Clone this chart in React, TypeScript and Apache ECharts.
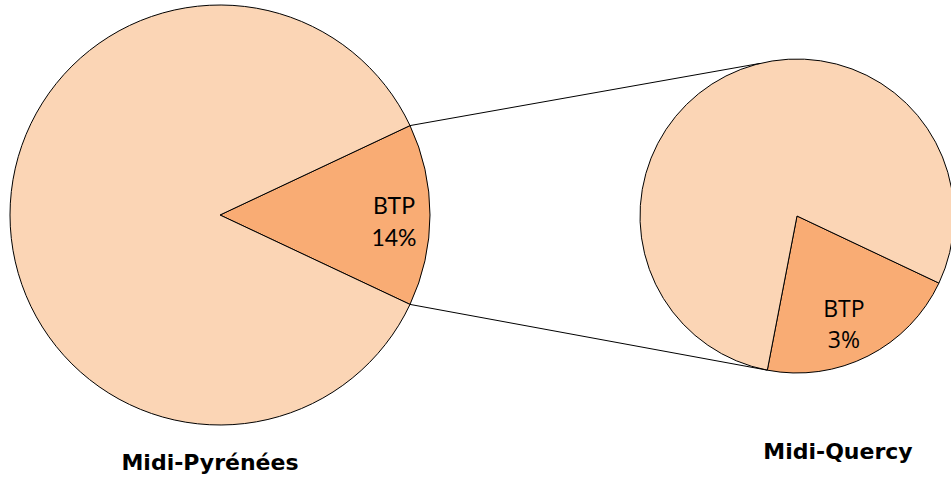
import React, { useEffect, useRef } from "react";
import * as echarts from "echarts";

// ---- data ----
const regions = ["Midi-Pyrénées", "Midi-Quercy"];
const sliceNames = ["BTP", "Autres"];
const leftValues = [14, 86];
const rightValues = [21, 79];
const labelPercents = ["14%", "3%"];

// ---- layout / style ----
const W = 951;
const H = 483;
const leftCenter = [220, 215];
const leftR = 210;
const rightCenter = [797, 216];
const rightR = 157;
const rightStart = -25.3;
const rightUpperConnectorAngle = 103.6;
const lightColor = "#FBD5B5";
const darkColor = "#F9AC74";

const rad = (d: number) => (d * Math.PI) / 180;
const pt = (c: number[], r: number, deg: number) => [
  c[0] + r * Math.cos(rad(deg)),
  c[1] - r * Math.sin(rad(deg)),
];

export default function App() {
  const ref = useRef<HTMLDivElement>(null);
  useEffect(() => {
    if (!ref.current) return;
    const chart = echarts.init(ref.current, null, { renderer: "svg" });

    const leftTotal = leftValues.reduce((a, b) => a + b, 0);
    const rightTotal = rightValues.reduce((a, b) => a + b, 0);
    const leftSpan = (leftValues[0] / leftTotal) * 360;
    const leftStart = leftSpan / 2;
    const rightSpan = (rightValues[0] / rightTotal) * 360;

    const lUp = pt(leftCenter, leftR, leftStart);
    const lDown = pt(leftCenter, leftR, leftStart - leftSpan);
    const rUp = pt(rightCenter, rightR, rightUpperConnectorAngle);
    const rDown = pt(rightCenter, rightR, rightStart - rightSpan);

    const mkData = (vals: number[], idx: number) =>
      vals.map((v, i) => ({
        name: sliceNames[i],
        value: v,
        itemStyle: { color: i === 0 ? darkColor : lightColor },
        label:
          i === 0
            ? { show: true, formatter: `${sliceNames[0]}\n${labelPercents[idx]}` }
            : { show: false },
      }));

    chart.setOption({
      animation: false,
      series: [
        {
          type: "pie",
          center: leftCenter,
          radius: leftR,
          startAngle: leftStart,
          clockwise: true,
          silent: true,
          avoidLabelOverlap: false,
          itemStyle: { borderColor: "#000", borderWidth: 1 },
          label: {
            position: "inside",
            offset: [66, 6],
            color: "#000",
            fontFamily: "Lato",
            fontSize: 23,
            lineHeight: 32,
            align: "center",
          },
          labelLine: { show: false },
          emphasis: { disabled: true },
          data: mkData(leftValues, 0),
        },
        {
          type: "pie",
          center: rightCenter,
          radius: rightR,
          startAngle: rightStart,
          clockwise: true,
          silent: true,
          avoidLabelOverlap: false,
          itemStyle: { borderColor: "#000", borderWidth: 1 },
          label: {
            position: "inside",
            offset: [10, 35],
            color: "#000",
            fontFamily: "Open Sans",
            fontSize: 23,
            lineHeight: 31,
            align: "center",
          },
          labelLine: { show: false },
          emphasis: { disabled: true },
          data: mkData(rightValues, 1),
        },
      ],
      graphic: [
        {
          type: "line",
          shape: { x1: lUp[0], y1: lUp[1], x2: rUp[0], y2: rUp[1] },
          style: { stroke: "#000", lineWidth: 1 },
          z: 10,
        },
        {
          type: "line",
          shape: { x1: lDown[0], y1: lDown[1], x2: rDown[0], y2: rDown[1] },
          style: { stroke: "#000", lineWidth: 1 },
          z: 10,
        },
        {
          type: "text",
          x: 210,
          y: 462,
          style: {
            text: regions[0],
            fill: "#000",
            font: "bold 22px 'DejaVu Sans'",
            textAlign: "center",
            textVerticalAlign: "middle",
          },
        },
        {
          type: "text",
          x: 838,
          y: 451,
          style: {
            text: regions[1],
            fill: "#000",
            font: "bold 22px 'DejaVu Sans'",
            textAlign: "center",
            textVerticalAlign: "middle",
          },
        },
      ],
    });
    return () => chart.dispose();
  }, []);
  return (
    <div
      ref={ref}
      style={{ position: "fixed", left: 0, top: 0, width: W, height: H, background: "#fff" }}
    />
  );
}
